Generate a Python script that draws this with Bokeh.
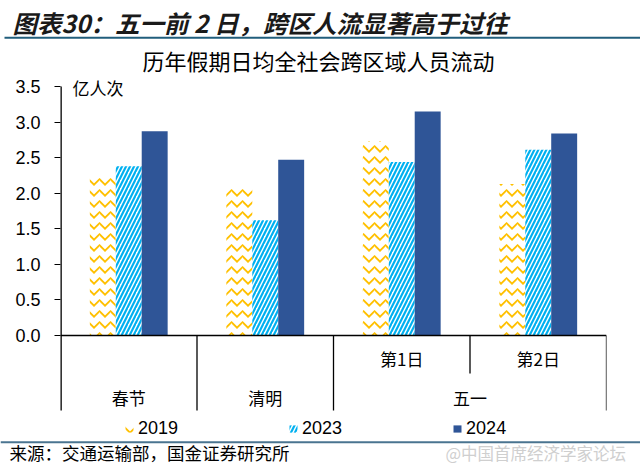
import numpy as np
from bokeh.plotting import figure
from bokeh.layouts import column
from bokeh.models import (Range1d, FixedTicker, PrintfTickFormatter, Legend, LegendItem,
                          ColumnDataSource)
from bokeh.core.properties import value
from bokeh.embed import file_html
from bokeh.resources import INLINE

# ---- data ----
groups = ["春节", "清明", "第1日", "第2日"]
outer_labels = ["春节", "清明", "五一"]
series_names = ["2019", "2023", "2024"]
v2019 = [2.24, 2.07, 2.73, 2.13]
v2023 = [2.38, 1.62, 2.44, 2.61]
v2024 = [2.87, 2.47, 3.15, 2.84]
y_ticks = [0.0, 0.5, 1.0, 1.5, 2.0, 2.5, 3.0, 3.5]

title_text = "图表30：五一前 2 日，跨区人流显著高于过往"
subtitle_text = "历年假期日均全社会跨区域人员流动"
unit_text = "亿人次"
source_text = "来源：交通运输部，国金证券研究所"
watermark_text = "@中国首席经济学家论坛"

C2019, C2023, C2024 = "#FFC000", "#00B0F0", "#2F5597"
CJK = "Noto Sans CJK SC"
LAT = "Liberation Sans"
W = 640


def no_align(f):
    if hasattr(f, "frame_align"):
        f.frame_align = False
    return f


def blank_fig(h, y0, y1):
    f = figure(width=W, height=h, output_backend="svg", toolbar_location=None,
               x_range=Range1d(0, W), y_range=Range1d(y1, y0),
               x_axis_type=None, y_axis_type=None,
               min_border_left=0, min_border_right=0, min_border_top=0, min_border_bottom=0)
    f.xgrid.visible = False
    f.ygrid.visible = False
    f.outline_line_color = None
    f.background_fill_color = "white"
    f.border_fill_color = "white"
    return no_align(f)


# ---- top: title and rule ----
TOP_H = 44
top = blank_fig(TOP_H, 0, TOP_H)
top.text(x=[12], y=[22], text=[title_text], text_font=value(CJK), text_font_size="24.5px",
         text_font_style="bold italic", text_color="#1a1a1a", text_baseline="middle")
top.segment(x0=[4], y0=[37.3], x1=[W], y1=[37.3], line_color="#215E7C", line_width=2)

# ---- main chart ----
FR_L, FR_R, FR_T, FR_B = 60, 606, TOP_H, 440
PX = 249 / 3.5                      # pixels per unit (0 at row 335, 3.5 at row 86)
CW = (FR_R - FR_L) / len(groups)    # pixels per category


def ydat(row):
    return (335 - row) / PX


def xdat(col):
    return (col - FR_L) / CW


p = figure(width=W, height=FR_B - FR_T, output_backend="svg", toolbar_location=None,
           x_range=Range1d(0, len(groups)), y_range=Range1d(ydat(FR_B), ydat(FR_T)),
           x_axis_type=None,
           min_border_left=FR_L, min_border_right=W - FR_R, min_border_top=0, min_border_bottom=0)
no_align(p)
p.xgrid.visible = False
p.ygrid.visible = False
p.outline_line_color = None
p.background_fill_color = "white"
p.border_fill_color = "white"

ax = p.yaxis[0]
ax.ticker = FixedTicker(ticks=y_ticks)
ax.formatter = PrintfTickFormatter(format="%.1f")
ax.major_label_text_font = LAT
ax.major_label_text_font_size = "18px"
ax.major_label_text_color = "black"
ax.major_tick_out = 6
ax.major_tick_in = 0
ax.minor_tick_out = 0
ax.minor_tick_in = 0
ax.axis_line_color = None
ax.major_tick_line_color = "black"
ax.major_label_standoff = 14

pos = np.arange(len(groups)) + 0.5
bw = 0.19
src = ColumnDataSource(dict(x1=pos - bw, x2=pos, x3=pos + bw,
                            v2019=v2019, v2023=v2023, v2024=v2024))

r1 = p.vbar(x="x1", top="v2019", bottom=0, width=bw, source=src,
            fill_color="white", line_color=None,
            hatch_pattern="horizontal_wave", hatch_color=C2019, hatch_scale=11, hatch_weight=1.8)
r2 = p.vbar(x="x2", top="v2023", bottom=0, width=bw, source=src,
            fill_color="white", line_color=None,
            hatch_pattern="right_diagonal_line", hatch_color=C2023, hatch_scale=8, hatch_weight=2.2)
r3 = p.vbar(x="x3", top="v2024", bottom=0, width=bw, source=src,
            fill_color=C2024, line_color=None)

sep_bottom = ydat(410)
# y axis line (from 3.5 down to the bottom of the category table)
p.segment(x0=[0], y0=[y_ticks[-1]], x1=[0], y1=[sep_bottom], line_color="black", line_width=2.6)
# x axis line at zero and category separators
p.segment(x0=[0], y0=[0], x1=[len(groups)], y1=[0], line_color="black", line_width=1.3)
full_sep = [1, 2, 4]
p.segment(x0=full_sep, y0=[0] * 3, x1=full_sep, y1=[sep_bottom] * 3,
          line_color="black", line_width=1.3)
p.segment(x0=[3], y0=[0], x1=[3], y1=[ydat(373)], line_color="black", line_width=1.3)

# category labels
p.text(x=pos[2:], y=[ydat(358)] * 2, text=groups[2:], text_font=value(CJK),
       text_font_size="17px", text_align="center", text_baseline="middle", text_color="black")
outer_x = [pos[0], pos[1], float(np.mean(pos[2:]))]
p.text(x=outer_x, y=[ydat(397)] * 3, text=outer_labels, text_font=value(CJK),
       text_font_size="17px", text_align="center", text_baseline="middle", text_color="black")

# subtitle and unit label
p.text(x=[xdat(318)], y=[ydat(59)], text=[subtitle_text], text_font=value(CJK),
       text_font_size="22px", text_align="center", text_baseline="middle", text_color="black")
p.text(x=[xdat(72)], y=[ydat(87)], text=[unit_text], text_font=value(CJK),
       text_font_size="17px", text_baseline="middle", text_color="black")

legend = Legend(items=[LegendItem(label=series_names[0], renderers=[r1]),
                       LegendItem(label=series_names[1], renderers=[r2]),
                       LegendItem(label=series_names[2], renderers=[r3])],
                orientation="horizontal", location=(64, 1),
                glyph_width=10, glyph_height=9, label_standoff=4, label_width=40,
                label_height=9, spacing=110, padding=0, margin=0,
                border_line_color=None, background_fill_alpha=0,
                label_text_font=LAT, label_text_font_size="18px", label_text_color="black")
p.add_layout(legend)

# ---- bottom: rule, source, watermark ----
bot = blank_fig(475 - FR_B, FR_B, 475)
bot.segment(x0=[0], y0=[441.7], x1=[W], y1=[441.7], line_color="#4A7490", line_width=2)
bot.text(x=[9], y=[452], text=[source_text], text_font=value(CJK), text_font_size="17.5px",
         text_color="black", text_baseline="middle")
bot.text(x=[445], y=[452], text=[watermark_text], text_font=value(CJK), text_font_size="16.5px",
         text_color="#cfcfcf", text_baseline="middle")

layout = column(top, p, bot, spacing=0)
open("out.html", "w").write(file_html(layout, INLINE))
